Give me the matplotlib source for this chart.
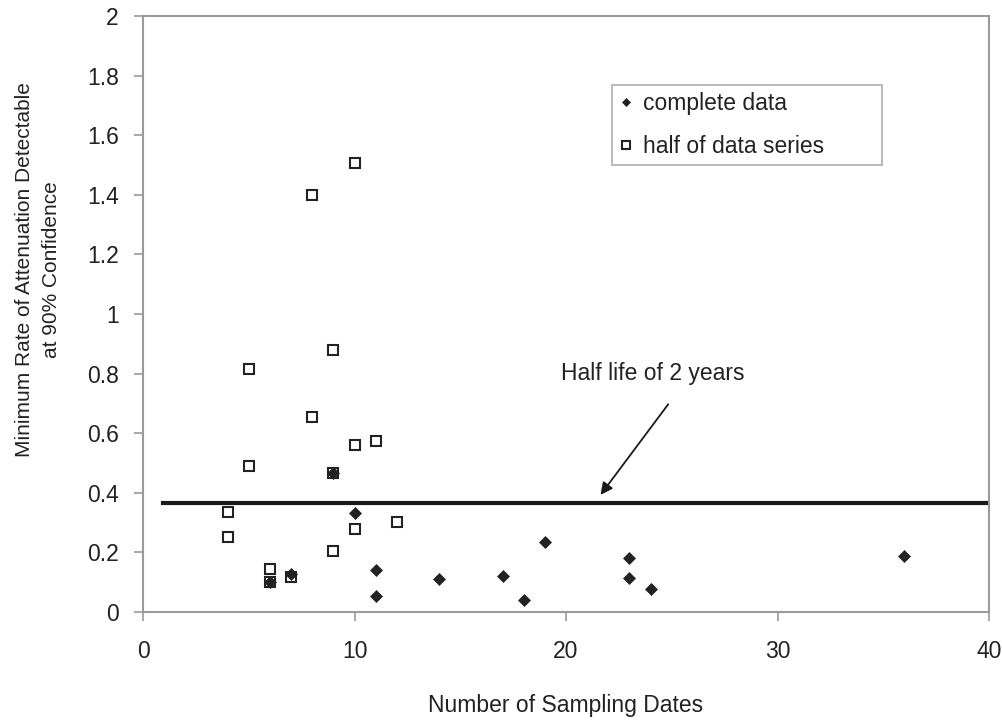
import numpy as np
import matplotlib
matplotlib.use("Agg")
import matplotlib.pyplot as plt

plt.rcParams['font.family'] = ['Liberation Sans', 'DejaVu Sans']

# datos
completo_x = [6, 7, 9, 10, 11, 11, 14, 17, 18, 19, 23, 23, 24, 36]
completo_y = [0.10, 0.127, 0.465, 0.332, 0.140, 0.054, 0.110, 0.122, 0.040, 0.235, 0.180, 0.115, 0.077, 0.187]

mitad_x = [4, 4, 5, 5, 6, 6, 7, 8, 8, 9, 9, 9, 10, 10, 10, 11, 12]
mitad_y = [0.337, 0.252, 0.491, 0.814, 0.145, 0.100, 0.117, 0.655, 1.399,
           0.879, 0.465, 0.204, 0.277, 0.561, 1.508, 0.574, 0.303]

# linea de vida media
linea_x = [0.95, 40]
linea_y = 0.366

xticks = [0, 10, 20, 30, 40]
yticks = [0, 0.2, 0.4, 0.6, 0.8, 1, 1.2, 1.4, 1.6, 1.8, 2]
ytick_labels = ['0', '0.2', '0.4', '0.6', '0.8', '1', '1.2', '1.4', '1.6', '1.8', '2']

gris = '#9a9a9a'
negro = '#222222'
fs = 16.5

fig = plt.figure(figsize=(10.03, 7.2), dpi=100, facecolor='white')
ax = fig.add_axes([0.1426, 0.15, 0.8435, 0.8278])

# Cuadrados primero, diamantes encima
ax.plot(mitad_x, mitad_y, linestyle='none', marker='s', markersize=7,
        markerfacecolor='white', markeredgecolor=negro, markeredgewidth=1.5,
        label='half of data series', zorder=3)
ax.plot(completo_x, completo_y, linestyle='none', marker='D', markersize=6,
        markerfacecolor=negro, markeredgecolor=negro, markeredgewidth=0.5,
        label='complete data', zorder=4)

ax.plot(linea_x, [linea_y, linea_y], color='#1a1a1a', linewidth=3, zorder=2)

ax.annotate('', xy=(21.63, 0.393), xytext=(24.83, 0.697),
            arrowprops=dict(arrowstyle='-|>', color='#1a1a1a', lw=1.3,
                            mutation_scale=18, shrinkA=0, shrinkB=0))
ax.text(24.1, 0.80, 'Half life of 2 years', fontsize=fs, color=negro,
        ha='center', va='center')

ax.set_xlim(0, 40)
ax.set_ylim(0, 2)
ax.set_xticks(xticks)
ax.set_yticks(yticks)
ax.set_yticklabels(ytick_labels)

for spine in ax.spines.values():
    spine.set_color(gris)
    spine.set_linewidth(1.5)

ax.tick_params(axis='both', colors=gris, labelcolor=negro, labelsize=fs,
               direction='out', length=6.5, width=1.2)
ax.tick_params(axis='x', pad=14)
ax.tick_params(axis='y', pad=11)

ax.set_xlabel('Number of Sampling Dates', fontsize=fs, color=negro)
ax.set_ylabel('Minimum Rate of Attenuation Detectable\nat 90% Confidence',
              fontsize=15, color=negro, linespacing=1.55)
ax.xaxis.set_label_coords(0.5, -0.137)
ax.yaxis.set_label_coords(-0.097, 0.574)

handles, labels = ax.get_legend_handles_labels()
leg = fig.legend(handles[::-1], labels[::-1], loc='upper left',
                 bbox_to_anchor=(0.610, 0.775, 0.269, 0.107), mode='expand',
                 borderaxespad=0, fontsize=fs, frameon=True, fancybox=False,
                 edgecolor=gris, handlelength=0.6, handletextpad=0.45,
                 labelspacing=0.9, borderpad=0.3, markerscale=0.75)
leg.get_frame().set_linewidth(1.2)
for t in leg.get_texts():
    t.set_color(negro)

fig.savefig('out.png', dpi=100, facecolor='white')
